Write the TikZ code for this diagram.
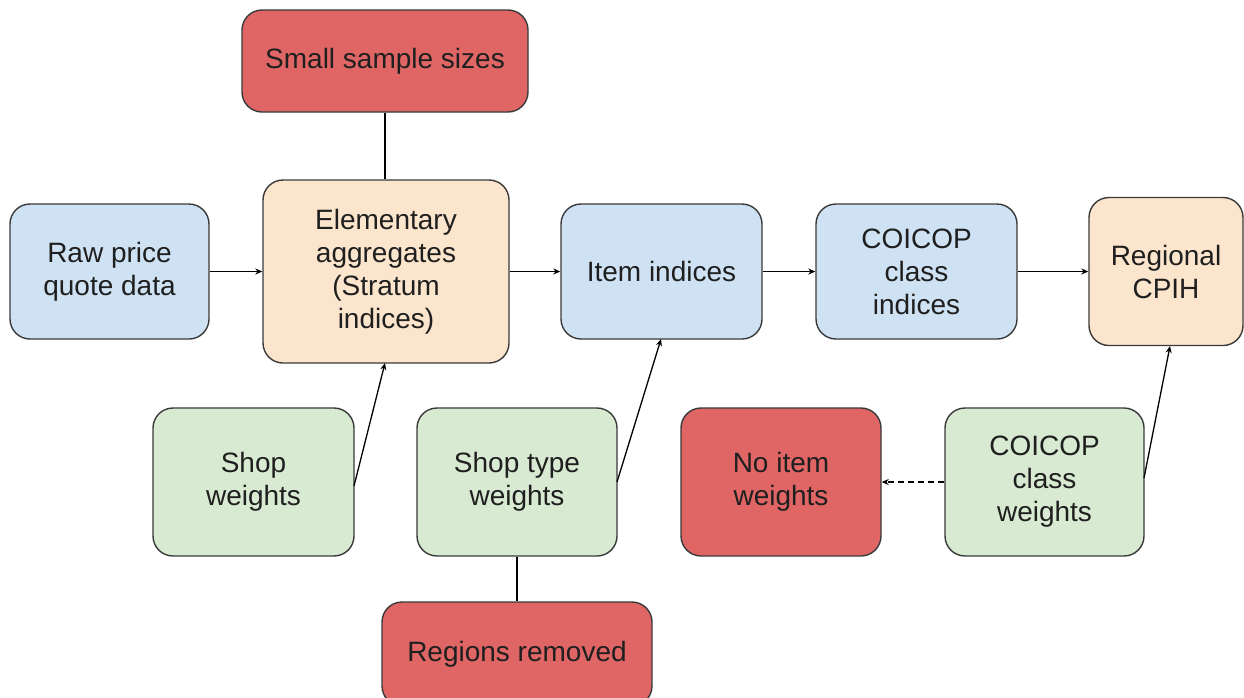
\documentclass[tikz,border=0pt]{standalone}
\usepackage{fontspec}
\setmainfont{Liberation Sans}
\usetikzlibrary{arrows.meta}
\definecolor{cblue}{HTML}{CFE2F3}
\definecolor{corange}{HTML}{FCE5CD}
\definecolor{cred}{HTML}{E06666}
\definecolor{cgreen}{HTML}{D9EAD3}
\definecolor{cborder}{HTML}{3A3A3A}
\tikzset{
  box/.style={draw=cborder, line width=1.4pt, rounded corners=20pt, inner sep=0pt,
    align=center, font=\fontsize{28}{33}\selectfont, text=black!88},
  bluebox/.style={box, fill=cblue},
  orangebox/.style={box, fill=corange},
  redbox/.style={box, fill=cred},
  greenbox/.style={box, fill=cgreen},
  arr/.style={draw=black, line width=1.3pt, -{Stealth[length=7pt,width=6pt]}},
  plain/.style={draw=black, line width=1.3pt},
  dashline/.style={dash pattern=on 6pt off 4pt},
}
\begin{document}
\begin{tikzpicture}[x=1pt,y=-1pt]
\useasboundingbox (0,0) rectangle (1244,697);
\clip (0,0) rectangle (1244,697);
\node[bluebox, minimum width=199pt, minimum height=135pt] (raw) at (109.5,271.5) {Raw price\\quote data};
\node[orangebox, minimum width=246pt, minimum height=183pt] (elem) at (386,271.5) {Elementary\\aggregates\\(Stratum\\indices)};
\node[redbox, minimum width=286pt, minimum height=102pt] (small) at (385,61) {Small sample sizes};
\node[bluebox, minimum width=201pt, minimum height=135pt] (item) at (661.5,271.5) {Item indices};
\node[bluebox, minimum width=201pt, minimum height=135pt] (coicop) at (916.5,271.5) {COICOP\\class\\indices};
\node[orangebox, minimum width=154pt, minimum height=148pt] (cpih) at (1166,271.5) {Regional\\CPIH};
\node[greenbox, minimum width=201pt, minimum height=148pt] (shopw) at (253.5,482) {Shop\\weights};
\node[greenbox, minimum width=200pt, minimum height=148pt] (shoptw) at (517,482) {Shop type\\weights};
\node[redbox, minimum width=270pt, minimum height=104pt] (regions) at (517,654) {Regions removed};
\node[redbox, minimum width=200pt, minimum height=148pt] (noitem) at (781,482) {No item\\weights};
\node[greenbox, minimum width=199pt, minimum height=148pt] (ccw) at (1044.5,482) {COICOP\\class\\weights};
\coordinate (elemb) at (385,363);
\coordinate (itemb) at (661,339);
\coordinate (cpihb) at (1170,346);
\coordinate (shopwr) at (354,486);
\coordinate (shoptwr) at (617,482);
\coordinate (ccwr) at (1144,478);
\draw[arr] (raw.east) -- (elem.west);
\draw[arr] (elem.east) -- (item.west);
\draw[arr] (item.east) -- (coicop.west);
\draw[arr] (coicop.east) -- (cpih.west);
\draw[plain] (small.south) -- (elem.north -| small.south);
\draw[arr] (shopwr) -- (elemb);
\draw[arr] (shoptwr) -- (itemb);
\draw[arr] (ccwr) -- (cpihb);
\draw[arr, dashline] (ccw.west) -- (noitem.east);
\draw[plain] (shoptw.south) -- (regions.north);
\end{tikzpicture}
\end{document}
